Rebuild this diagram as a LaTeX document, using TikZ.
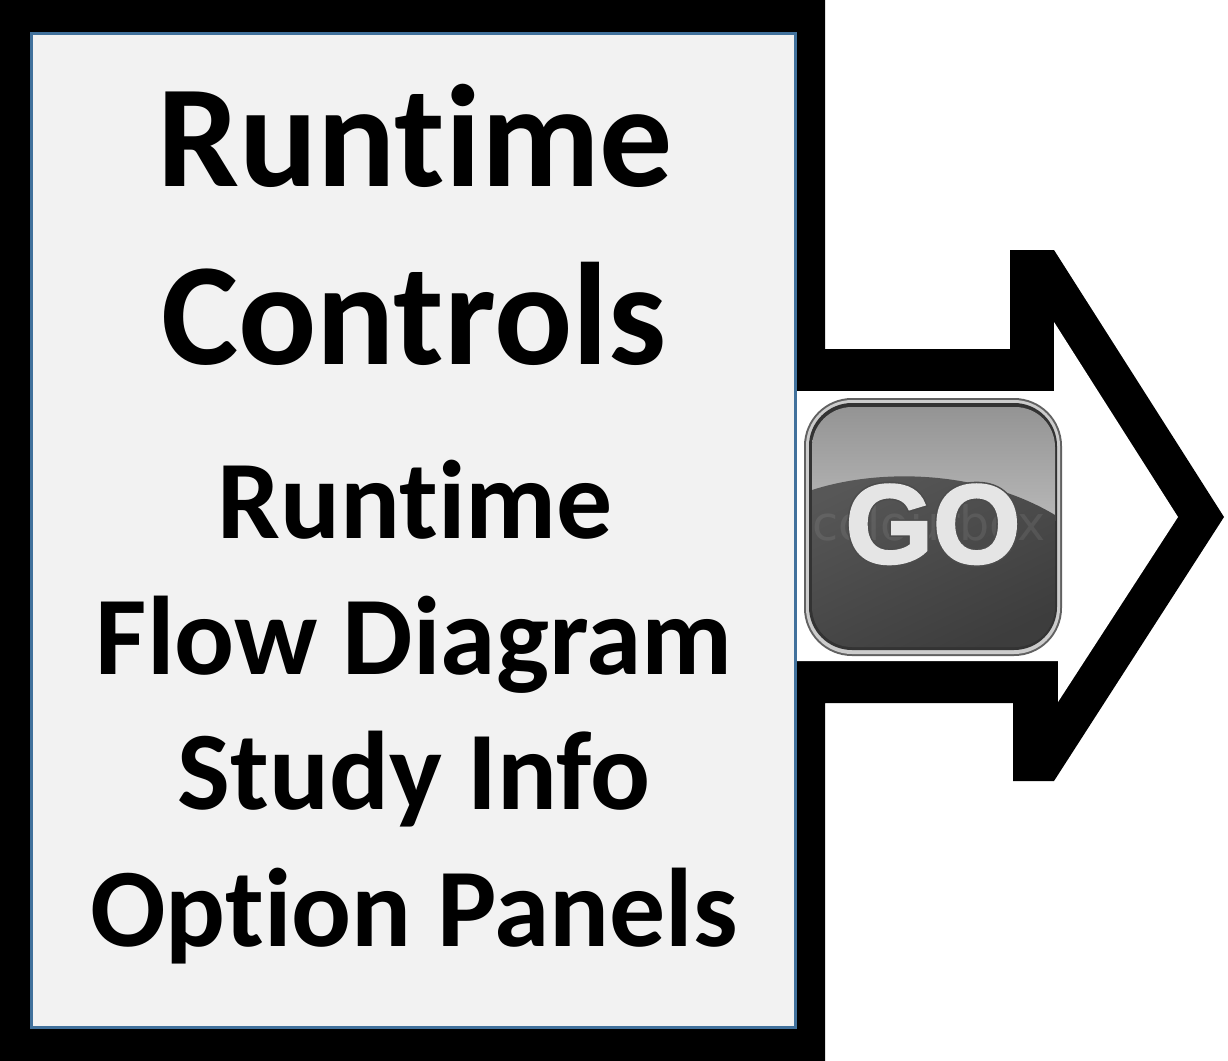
\documentclass[tikz,border=0pt]{standalone}
\usepackage{fontspec}
\setmainfont[Ligatures=NoCommon]{Carlito}
\newfontfamily\gofont{Liberation Sans}
\newfontfamily\markfont{DejaVu Sans}
\newcommand{\strokedtext}[3]{\special{pdf:code q 2 Tr #1 w #2 G}#3\special{pdf:code Q}}
\definecolor{panelfill}{RGB}{242,242,242}
\definecolor{panelblue}{RGB}{65,113,156}
\tikzset{
  bigtext/.style={anchor=base,font=\fontsize{41.5}{41.5}\selectfont\bfseries,inner sep=0pt},
  smalltext/.style={anchor=base,font=\fontsize{31.8}{31.8}\selectfont\bfseries,inner sep=0pt},
  gotext/.style={anchor=base,inner sep=0pt,font=\fontsize{32}{32}\selectfont\gofont\bfseries},
  ring/.style={rounded corners=#1*0.1mm}
}
\begin{document}
\begin{tikzpicture}[x=0.1mm,y=-0.1mm]
\useasboundingbox (0,0) rectangle (1228,1061);
% black outline with the arrow
\fill[black] (0,0) -- (825,0) -- (825,349) -- (1010,349) -- (1010,250) -- (1054,250)
  -- (1224,517) -- (1054,781) -- (1013,781) -- (1013,703) -- (825,703) -- (825,1061)
  -- (0,1061) -- cycle;
\fill[white] (796,391) -- (1054,391) -- (1054,322) -- (1178,517) -- (1058,702)
  -- (1058,661) -- (796,661) -- cycle;
% text panel
\draw[draw=panelblue,fill=panelfill,line width=0.3mm] (31,33) rectangle (795,1027);
\node[bigtext] (runtimebig) at (415,186) {Runtime};
\node[bigtext] (controls) at (414,364) {Controls};
\node[smalltext] (runtimesmall) at (415,538) {Runtime};
\node[smalltext] (flow) at (414,674) {Flow Diagram};
\node[smalltext] (study) at (414,809) {Study Info};
\node[smalltext] (option) at (414,946) {Option Panels};
% go button
\fill[black!62,ring=48] (804,398) rectangle (1062,656);
\fill[black!20,ring=46] (806,400) rectangle (1060,654);
\fill[black!80,ring=43] (809,403) rectangle (1057,650);
\begin{scope}
\clip[ring=40] (812,407) rectangle (1055,647);
\shade[top color=black!42,bottom color=black!28] (812,407) rectangle (1055,520);
\shade[top color=black!66,middle color=black!60,bottom color=black!76,shading angle=25] (812,490)
  .. controls (880,468) and (980,470) .. (1055,515) -- (1055,647) -- (812,647) -- cycle;
\node[text=white,opacity=0.08,anchor=base,inner sep=0pt,font=\fontsize{13.5}{13.5}\selectfont\markfont] (mark) at (929,540) {colourbox};
\end{scope}
\node[gotext,text=black!10] (go) at (933,563)
  {\rlap{\strokedtext{1.6}{0.3}{GO}}\strokedtext{0.7}{0.9}{GO}};
\end{tikzpicture}
\end{document}
